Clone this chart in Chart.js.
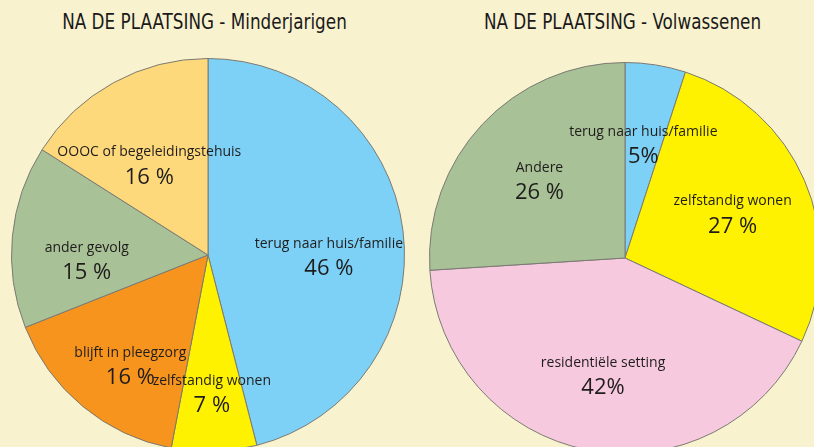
<!DOCTYPE html>
<html lang="nl">
<head>
    <meta charset="UTF-8">
    <title>Na de plaatsing</title>
    <style>
        html, body {
            margin: 0;
            padding: 0;
            width: 814px;
            height: 447px;
            overflow: hidden;
            background: #f9f2cf;
        }
        .titel {
            position: absolute;
            top: 10px;
            font-family: "Liberation Sans Narrow", "DejaVu Sans Condensed", sans-serif;
            font-size: 21px;
            color: #1a1a1a;
            text-align: center;
            width: 407px;
            transform: scaleX(0.89);
            transform-origin: center;
        }
        .taart {
            position: absolute;
        }
    </style>
    <script src="https://cdn.jsdelivr.net/npm/chart.js"></script>
</head>
<body>

<div class="titel" style="left:1px">NA DE PLAATSING - Minderjarigen</div>
<div class="titel" style="left:419px">NA DE PLAATSING - Volwassenen</div>

<div class="taart" style="left:11px; top:58px; width:394px; height:394px">
    <canvas id="minderjarigen"></canvas>
</div>
<div class="taart" style="left:429px; top:62px; width:392px; height:392px">
    <canvas id="volwassenen"></canvas>
</div>

<script>
// Minderjarigen
const labelsMinder = ['terug naar huis/familie', 'zelfstandig wonen', 'blijft in pleegzorg', 'ander gevolg', 'OOOC of begeleidingstehuis'];
const waardenMinder = [46, 7, 16, 15, 16];
const tekstMinder = ['46 %', '7 %', '16 %', '15 %', '16 %'];
const kleurenMinder = ['#7dd1f6', '#fff200', '#f7941e', '#a8c196', '#fed97c'];

// Volwassenen
const labelsVolw = ['terug naar huis/familie', 'zelfstandig wonen', 'residentiële setting', 'Andere'];
const waardenVolw = [5, 27, 42, 26];
const tekstVolw = ['5%', '27 %', '42%', '26 %'];
const kleurenVolw = ['#7dd1f6', '#fff200', '#f7c9df', '#a8c196'];

// labels in de taartpunten tekenen
const taartLabels = {
    id: 'taartLabels',
    afterDatasetsDraw(chart, args, opts) {
        const ctx = chart.ctx;
        const meta = chart.getDatasetMeta(0);
        meta.data.forEach((arc, i) => {
            const p = arc.getProps(['x', 'y', 'startAngle', 'endAngle', 'outerRadius'], true);
            const mid = (p.startAngle + p.endAngle) / 2;
            const r = p.outerRadius * opts.straal;
            const x = p.x + Math.cos(mid) * r;
            const y = p.y + Math.sin(mid) * r + opts.omlaag;
            ctx.save();
            ctx.fillStyle = '#1f1d1c';
            ctx.textAlign = 'center';
            ctx.textBaseline = 'middle';
            ctx.font = '14px "Open Sans", sans-serif';
            ctx.fillText(chart.data.labels[i], x, y - 12);
            ctx.font = '22px "Open Sans", sans-serif';
            ctx.fillText(opts.tekst[i], x, y + 13);
            ctx.restore();
        });
    }
};

function maakTaart(id, labels, waarden, kleuren, tekst, straal, omlaag) {
    new Chart(document.getElementById(id), {
        type: 'pie',
        data: {
            labels: labels,
            datasets: [{
                data: waarden,
                backgroundColor: kleuren,
                borderColor: '#7a7a72',
                borderWidth: 1,
                hoverOffset: 0
            }]
        },
        options: {
            responsive: true,
            maintainAspectRatio: false,
            animation: false,
            events: [],
            layout: { padding: 0 },
            plugins: {
                legend: { display: false },
                tooltip: { enabled: false },
                taartLabels: { tekst: tekst, straal: straal, omlaag: omlaag }
            }
        },
        plugins: [taartLabels]
    });
}

maakTaart('minderjarigen', labelsMinder, waardenMinder, kleurenMinder, tekstMinder, 0.62, 16);
maakTaart('volwassenen', labelsVolw, waardenVolw, kleurenVolw, tekstVolw, 0.6, 2);
</script>

</body>
</html>
